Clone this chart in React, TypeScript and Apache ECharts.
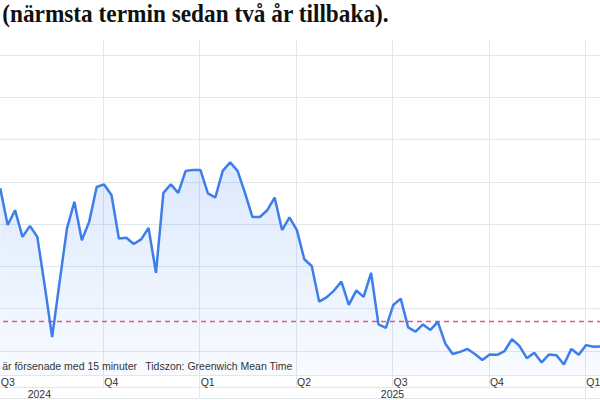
import React, { useEffect, useRef } from 'react';
import * as echarts from 'echarts';

// ---- texts ----
const TITLE = '(närmsta termin sedan två år tillbaka).';
const FOOTER_LEFT = 'är försenade med 15 minuter';
const FOOTER_RIGHT = 'Tidszon: Greenwich Mean Time';

// ---- axis labels ----
const quarterLabels = ['Q1', 'Q2', 'Q3', 'Q4', 'Q1', 'Q2', 'Q3', 'Q4', 'Q1', 'Q2', 'Q3', 'Q4'];
const yearLabels = ['2024', '2025', '2026'];

// ---- data: weekly closes, first point ~0.9 weeks before start of Q3 2024 ----
const FIRST_WEEK = -0.89;
const weeklyValues = [
  78.5, 69.8, 73.3, 67.0, 69.6, 67.0, 55.4, 43.3, 56.3, 69.0,
  75.3, 66.2, 70.6, 78.8, 79.4, 76.9, 66.6, 66.8, 65.3, 66.4,
  69.1, 58.5, 77.4, 79.4, 77.4, 82.6, 82.8, 82.8, 77.3, 76.3,
  82.6, 84.6, 82.6, 77.4, 71.7, 71.7, 73.3, 76.3, 68.6, 71.6,
  68.6, 61.7, 60.1, 51.7, 52.7, 54.3, 56.4, 50.9, 54.3, 52.8,
  58.5, 46.3, 45.5, 50.9, 52.4, 45.6, 44.6, 46.3, 45.0, 46.9,
  41.8, 39.3, 39.8, 40.5, 39.3, 37.9, 39.2, 39.1, 40.0, 42.8,
  41.2, 38.3, 39.6, 37.3, 39.2, 39.0, 36.8, 40.5, 39.1, 41.4,
  41.0, 41.1, 41.0,
];
const REFERENCE_LEVEL = 47;

// ---- scale setup (the chart is wider than the visible 600px window) ----
const WEEK_MIN = -26; // start of Q1 2024
const WEEK_MAX = 130; // end of Q4 2026
const PX_PER_WEEK = 7.415;
const Q3_2024_PX = 6.6;
const OFFSET = -(Q3_2024_PX + WEEK_MIN * PX_PER_WEEK); // px hidden on the left
const CHART_W = (WEEK_MAX - WEEK_MIN) * PX_PER_WEEK;
const HIDDEN_QUARTER = 2; // Q3 2024 boundary line not drawn
const VISIBLE_QUARTERS = [2, 3, 4, 5, 6, 7, 8];
const VISIBLE_YEARS = [0, 1];
const BAND = 13 * PX_PER_WEEK;

const GRID_COLOR = '#e1e8eb';
const LINE_COLOR = '#3d7eea';
const DASH_COLOR = '#f0507c';
const LABEL_FONT = 'Liberation Sans, Arial, sans-serif';

export default function App() {
  const ref = useRef<HTMLDivElement>(null);

  useEffect(() => {
    if (!ref.current) return;
    const chart = echarts.init(ref.current, undefined, { renderer: 'svg' });

    const seriesData = weeklyValues.map((v, i) => [FIRST_WEEK + i, v]);
    const levelData = [
      [WEEK_MIN, REFERENCE_LEVEL],
      [WEEK_MAX, REFERENCE_LEVEL],
    ];
    const labelText = { fontSize: 10.5, fontFamily: LABEL_FONT, color: '#333' };

    const option: any = {
      animation: false,
      backgroundColor: '#ffffff',
      grid: [
        { left: 0, right: 0, top: 40, bottom: 25 },
        { left: 0, right: 0, top: 55, bottom: 49 },
      ],
      xAxis: [
        {
          type: 'category',
          gridIndex: 0,
          position: 'bottom',
          offset: 0,
          data: quarterLabels,
          boundaryGap: true,
          axisLine: { show: true, lineStyle: { color: GRID_COLOR, width: 1 } },
          axisTick: {
            show: true,
            length: 12,
            interval: (i: number) => i !== HIDDEN_QUARTER,
            lineStyle: { color: GRID_COLOR, width: 1 },
          },
          splitLine: {
            show: true,
            interval: (i: number) => i !== HIDDEN_QUARTER,
            lineStyle: { color: GRID_COLOR, width: 1 },
          },
          axisLabel: {
            interval: 0,
            margin: 1,
            align: 'center',
            formatter: (v: string, i: number) => {
              if (VISIBLE_QUARTERS.indexOf(i) < 0) return '';
              return i === HIDDEN_QUARTER ? `{first|${v}}` : `{q|${v}}`;
            },
            rich: {
              first: { ...labelText, width: 2 * (Q3_2024_PX + BAND / 2) - 1, align: 'left' },
              q: { ...labelText, width: BAND - 2, align: 'left' },
            },
          },
        },
        {
          type: 'category',
          gridIndex: 0,
          position: 'bottom',
          offset: 12,
          data: yearLabels,
          boundaryGap: true,
          axisLine: { show: true, lineStyle: { color: GRID_COLOR, width: 1 } },
          axisTick: { show: true, length: 11, lineStyle: { color: GRID_COLOR, width: 1 } },
          splitLine: { show: false },
          axisLabel: {
            interval: 0,
            margin: 1,
            formatter: (v: string, i: number) => {
              if (VISIBLE_YEARS.indexOf(i) < 0) return '';
              return i === 0 ? `{shift|${v}}` : `{y|${v}}`;
            },
            rich: {
              shift: { ...labelText, padding: [0, 0, 0, 65] },
              y: { ...labelText },
            },
          },
        },
        { type: 'value', gridIndex: 0, min: WEEK_MIN, max: WEEK_MAX, show: false },
        { type: 'value', gridIndex: 1, min: WEEK_MIN, max: WEEK_MAX, show: false },
      ],
      yAxis: [
        { type: 'value', gridIndex: 0, min: 34.33, max: 113.55, show: false },
        {
          type: 'value',
          gridIndex: 1,
          min: 40,
          max: 110,
          interval: 10,
          axisLine: { show: false },
          axisTick: { show: false },
          axisLabel: { show: false },
          splitLine: { show: true, lineStyle: { color: GRID_COLOR, width: 1 } },
        },
      ],
      graphic: [
        {
          type: 'text',
          x: OFFSET + 2,
          y: 0,
          scaleY: 1.1,
          style: {
            text: TITLE,
            fontSize: 23.3,
            fontWeight: 'bold',
            fontFamily: 'Liberation Serif, serif',
            fill: '#111',
            verticalAlign: 'top',
          },
          z: 10,
        },
        {
          type: 'text',
          x: OFFSET + 2,
          y: 371,
          style: {
            text: FOOTER_LEFT,
            fontSize: 10.5,
            fontFamily: LABEL_FONT,
            fill: '#333',
            verticalAlign: 'bottom',
          },
          z: 10,
        },
        {
          type: 'text',
          x: OFFSET + 145,
          y: 371,
          style: {
            text: FOOTER_RIGHT,
            fontSize: 10.5,
            fontFamily: LABEL_FONT,
            fill: '#333',
            verticalAlign: 'bottom',
          },
          z: 10,
        },
        {
          type: 'line',
          shape: { x1: 0, y1: 398.5, x2: CHART_W, y2: 398.5 },
          style: { stroke: GRID_COLOR, lineWidth: 1 },
        },
      ],
      series: [
        {
          name: 'level',
          type: 'line',
          xAxisIndex: 2,
          yAxisIndex: 0,
          data: levelData,
          symbol: 'none',
          silent: true,
          z: 1,
          lineStyle: { color: DASH_COLOR, type: [5, 4], width: 1.5 },
        },
        {
          name: 'price',
          type: 'line',
          xAxisIndex: 2,
          yAxisIndex: 0,
          data: seriesData,
          symbol: 'none',
          z: 2,
          lineStyle: { color: LINE_COLOR, width: 2.5 },
          areaStyle: {
            origin: 'start',
            color: new echarts.graphic.LinearGradient(0, 0, 0, 1, [
              { offset: 0, color: 'rgba(66,133,244,0.26)' },
              { offset: 1, color: 'rgba(66,133,244,0.05)' },
            ]),
          },
        },
      ],
    };

    chart.setOption(option);
    return () => chart.dispose();
  }, []);

  return (
    <div style={{ position: 'fixed', left: 0, top: 0, width: 600, height: 400, overflow: 'hidden', background: '#fff' }}>
      <div
        ref={ref}
        style={{ position: 'absolute', left: -OFFSET, top: 0, width: CHART_W, height: 400 }}
      />
    </div>
  );
}
